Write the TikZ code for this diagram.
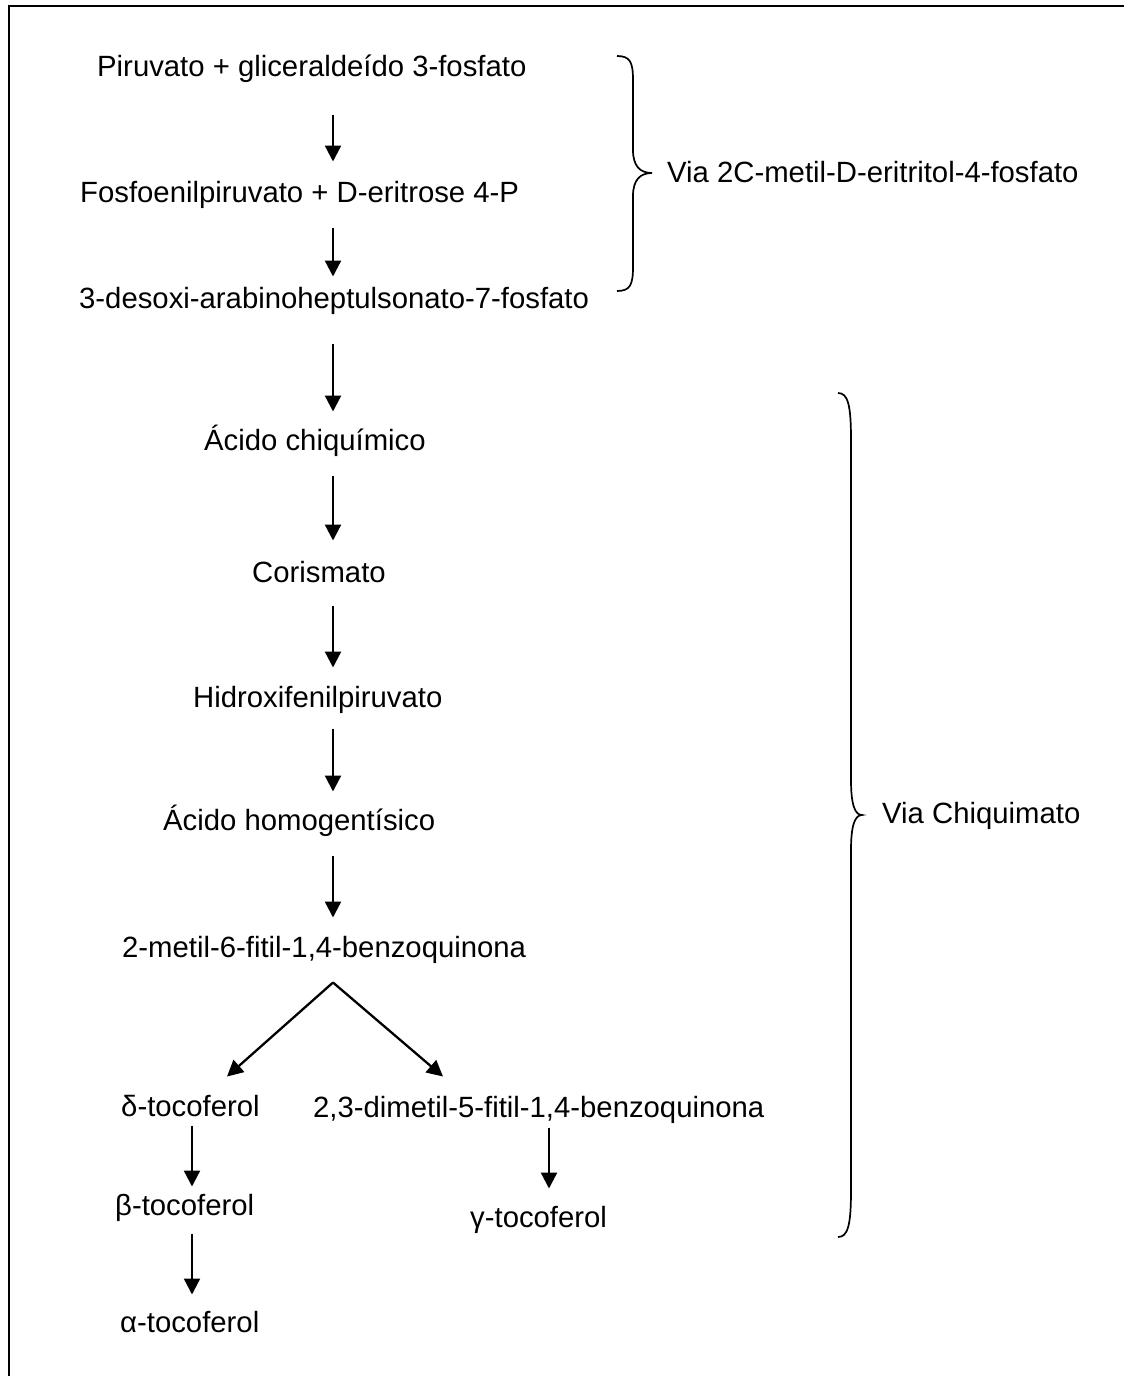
\documentclass[tikz,border=0pt]{standalone}
\usepackage{fontspec}
\setmainfont{Liberation Sans}
\usetikzlibrary{arrows.meta,calc}
\tikzset{
  lbl/.style={anchor=base west,inner sep=0pt,font=\fontsize{29.3}{34}\selectfont},
  arr/.style={line width=2.3pt,-{Triangle[length=16pt,width=16pt]}},
  brace/.style={line width=1.7pt},
  frame/.style={line width=2pt}
}
\begin{document}
\begin{tikzpicture}[x=1pt,y=-1pt]
\useasboundingbox (0,0) rectangle (1124,1376);
\draw[frame] (9,1380) -- (9,6) -- (1130,6);
% arrow columns
\coordinate (ax) at (333,0);
\coordinate (lx) at (192,0);
\coordinate (rx) at (549,0);
\coordinate (dl) at (227,0);
\coordinate (dr) at (443,0);
% nodes (baseline = visual centre + 10.5)
\node[lbl] (pir) at (97,76.5) {Piruvato + gliceraldeído 3-fosfato};
\node[lbl] (fos) at (80,202.5) {Fosfoenilpiruvato + D-eritrose 4-P};
\node[lbl] (des) at (79,308.5) {3-desoxi-arabinoheptulsonato-7-fosfato};
\node[lbl] (chi) at (204,450.5) {Ácido chiquímico};
\node[lbl] (cor) at (252,582.5) {Corismato};
\node[lbl] (hid) at (193,707.5) {Hidroxifenilpiruvato};
\node[lbl] (hom) at (163,830.5) {Ácido homogentísico};
\node[lbl] (mfb) at (122,957.5) {2-metil-6-fitil-1,4-benzoquinona};
\node[lbl] (del) at (121,1116.5) {δ-tocoferol};
\node[lbl] (bet) at (115,1215.5) {β-tocoferol};
\node[lbl] (alf) at (120,1332.5) {α-tocoferol};
\node[lbl] (dmb) at (313,1117.5) {2,3-dimetil-5-fitil-1,4-benzoquinona};
\node[lbl] (gam) at (470,1227.5) {γ-tocoferol};
\node[lbl] (via1) at (667,182.5) {Via 2C-metil-D-eritritol-4-fosfato};
\node[lbl] (via2) at (882,823.5) {Via Chiquimato};
% main chain arrows
\draw[arr] ($(ax |- pir.base)+(0,38)$) -- ($(ax |- fos.base)+(0,-41)$);
\draw[arr] ($(ax |- fos.base)+(0,25)$) -- ($(ax |- des.base)+(0,-32)$);
\draw[arr] ($(ax |- des.base)+(0,35)$) -- ($(ax |- chi.base)+(0,-39)$);
\draw[arr] ($(ax |- chi.base)+(0,25)$) -- ($(ax |- cor.base)+(0,-42)$);
\draw[arr] ($(ax |- cor.base)+(0,23)$) -- ($(ax |- hid.base)+(0,-40)$);
\draw[arr] ($(ax |- hid.base)+(0,21)$) -- ($(ax |- hom.base)+(0,-39)$);
\draw[arr] ($(ax |- hom.base)+(0,25)$) -- ($(ax |- mfb.base)+(0,-40)$);
% branch
\coordinate (apex) at ($(ax |- mfb.base)+(0,25)$);
\draw[arr] (apex) -- ($(dl |- del.base)+(0,-40)$);
\draw[arr] (apex) -- ($(dr |- dmb.base)+(0,-41)$);
\draw[arr] ($(lx |- del.base)+(0,9)$) -- ($(lx |- bet.base)+(0,-29)$);
\draw[arr] ($(lx |- bet.base)+(0,18)$) -- ($(lx |- alf.base)+(0,-38)$);
\draw[arr] ($(rx |- dmb.base)+(0,10)$) -- ($(rx |- gam.base)+(0,-39)$);
% braces
\draw[brace] (617,56) .. controls (630,56) and (633,62) .. (633,80) -- (633,150)
  .. controls (633,166) and (640,173) .. (652,173)
  .. controls (640,173) and (633,180) .. (633,196) -- (633,267)
  .. controls (633,285) and (630,291) .. (617,291);
\draw[brace] (838,393) .. controls (848,393) and (851,405) .. (851,440) -- (851,780)
  .. controls (851,805) and (855,815) .. (862,815)
  .. controls (855,815) and (851,825) .. (851,850) -- (851,1190)
  .. controls (851,1225) and (848,1237) .. (838,1237);
\end{tikzpicture}
\end{document}
